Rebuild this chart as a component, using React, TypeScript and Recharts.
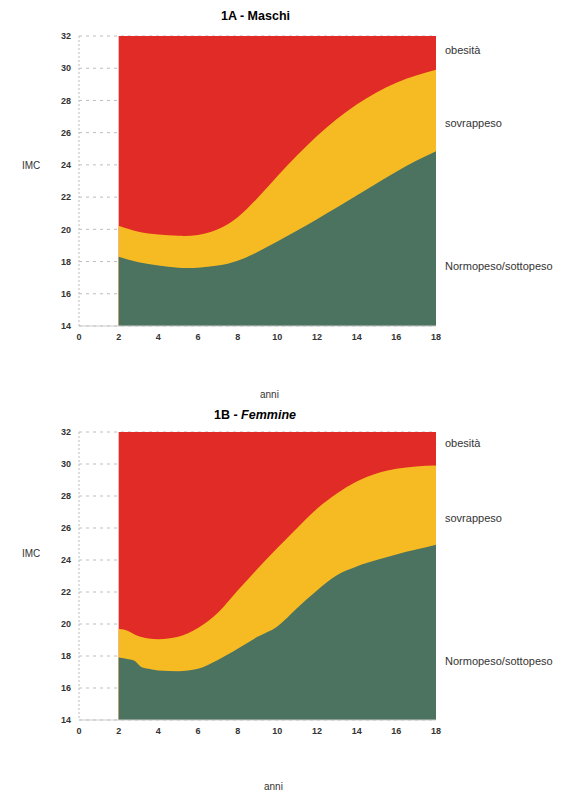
import { ComposedChart, Area, XAxis, YAxis, CartesianGrid, ReferenceArea } from 'recharts';

// Dati (IMC per età)
const etaMaschi = [2, 3, 4, 5, 6, 7, 8, 9, 10, 11, 12, 13, 14, 15, 16, 17, 18];
const obesitaMaschi = [20.22, 19.85, 19.68, 19.6, 19.65, 20.0, 20.75, 21.95, 23.3, 24.6, 25.8, 26.85, 27.75, 28.5, 29.1, 29.55, 29.9];
const sovrappesoMaschi = [18.3, 17.95, 17.75, 17.62, 17.62, 17.75, 18.05, 18.6, 19.25, 19.93, 20.63, 21.35, 22.1, 22.85, 23.58, 24.25, 24.85];

const etaFemmine = [2, 2.5, 2.8, 3.1, 3.5, 4, 5, 6, 7, 8, 9, 10, 11, 12, 13, 14, 15, 16, 17, 18];
const obesitaFemmine = [19.7, 19.55, 19.35, 19.2, 19.1, 19.05, 19.2, 19.75, 20.7, 22.1, 23.45, 24.75, 26.0, 27.2, 28.15, 28.9, 29.4, 29.7, 29.85, 29.9];
const sovrappesoFemmine = [17.9, 17.8, 17.7, 17.35, 17.2, 17.1, 17.05, 17.2, 17.75, 18.45, 19.2, 19.85, 21.0, 22.1, 23.05, 23.6, 24.0, 24.35, 24.65, 24.95];

const xTicks = [0, 2, 4, 6, 8, 10, 12, 14, 16, 18];
const yTicks = [14, 16, 18, 20, 22, 24, 26, 28, 30, 32];

const RED = '#e12b27';
const YELLOW = '#f6bb22';
const GREEN = '#4c7360';
const FONT = '"Liberation Sans", Arial, sans-serif';

const tickStyle = { fontSize: 9, fill: '#333', fontFamily: FONT, fontWeight: 700 };

type Props = { eta: number[]; obesita: number[]; sovrappeso: number[]; height: number; curve: 'natural' | 'monotone' };

const BmiChart = ({ eta, obesita, sovrappeso, height, curve }: Props) => {
    const data = eta.map((e, i) => ({ eta: e, obe: obesita[i], sov: sovrappeso[i] }));
    return (
        <ComposedChart width={550} height={height} data={data} margin={{ top: 28, right: 122, bottom: 32, left: 0 }}>
            <CartesianGrid horizontal vertical={false} stroke="#bdbdbd" strokeDasharray="3 4" />
            <XAxis type="number" dataKey="eta" domain={[0, 18]} ticks={xTicks} tick={tickStyle}
                tickLine={false} axisLine={{ stroke: '#ccc' }} interval={0} />
            <YAxis type="number" domain={[14, 32]} ticks={yTicks} tick={tickStyle} width={71}
                tickLine={false} axisLine={{ stroke: '#bbb', strokeDasharray: '2 2' }} interval={0} />
            <ReferenceArea x1={2} x2={18} y1={14} y2={32} fill={RED} fillOpacity={1} stroke="none" />
            <Area type={curve} dataKey="obe" fill={YELLOW} fillOpacity={1} stroke="none" isAnimationActive={false} />
            <Area type={curve} dataKey="sov" fill={GREEN} fillOpacity={1} stroke="none" isAnimationActive={false} />
        </ComposedChart>
    );
};

const lbl = (left: number, top: number, text: string, size = 11) => (
    <div style={{ position: 'absolute', left, top, fontSize: size, fontFamily: FONT, color: '#333', lineHeight: 1, whiteSpace: 'nowrap' }}>{text}</div>
);

export default function App() {
    return (
        <div style={{ position: 'relative', width: 558, height: 785, fontFamily: FONT }}>
            <div style={{ position: 'absolute', left: 0, top: 0 }}>
                <BmiChart eta={etaMaschi} obesita={obesitaMaschi} sovrappeso={sovrappesoMaschi} height={380} curve="natural" />
            </div>
            <div style={{ position: 'absolute', left: 0, top: 396 }}>
                <BmiChart eta={etaFemmine} obesita={obesitaFemmine} sovrappeso={sovrappesoFemmine} height={378} curve="monotone" />
            </div>

            <div style={{ position: 'absolute', left: 213, top: 1, fontSize: 12.5, fontWeight: 700, fontFamily: FONT }}>1A - Maschi</div>
            <div style={{ position: 'absolute', left: 206, top: 400, fontSize: 12.5, fontWeight: 700, fontFamily: FONT }}>
                1B - <i>Femmine</i>
            </div>

            {lbl(14, 153, 'IMC', 10)}
            {lbl(14, 541, 'IMC', 10)}
            {lbl(252, 382, 'anni', 10)}
            {lbl(256, 774, 'anni', 10)}

            {lbl(437, 37, 'obesità')}
            {lbl(437, 110, 'sovrappeso')}
            {lbl(437, 253, 'Normopeso/sottopeso')}
            {lbl(437, 430, 'obesità')}
            {lbl(437, 505, 'sovrappeso')}
            {lbl(437, 648, 'Normopeso/sottopeso')}
        </div>
    );
}
